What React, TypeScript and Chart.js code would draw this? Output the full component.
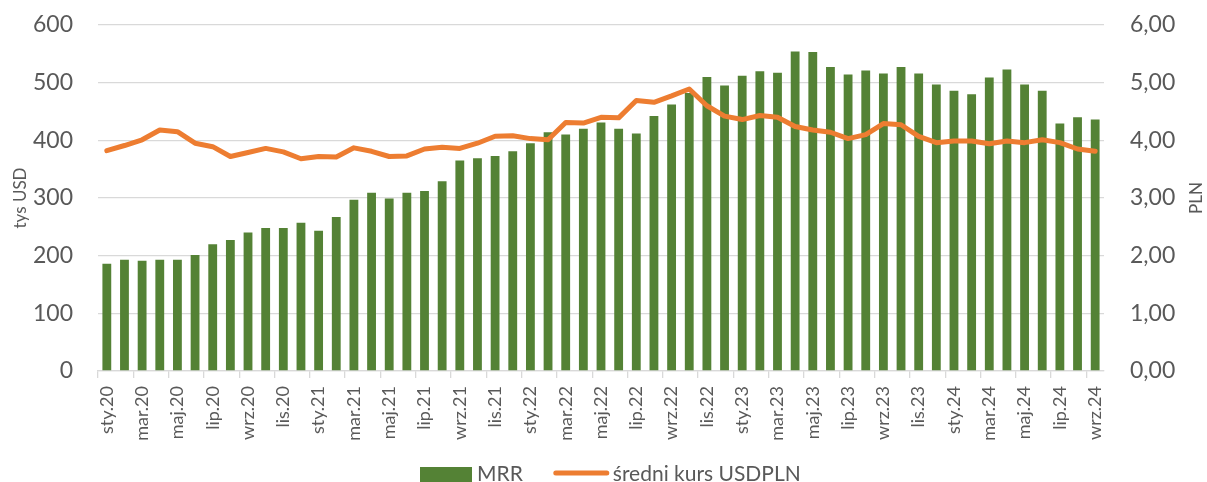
import React, { useEffect, useRef } from 'react';
import { Chart, registerables } from 'chart.js';

Chart.register(...registerables);

// ---- data ----
const categories = [
  'sty.20', 'lut.20', 'mar.20', 'kwi.20', 'maj.20', 'cze.20', 'lip.20', 'sie.20', 'wrz.20', 'paź.20', 'lis.20', 'gru.20',
  'sty.21', 'lut.21', 'mar.21', 'kwi.21', 'maj.21', 'cze.21', 'lip.21', 'sie.21', 'wrz.21', 'paź.21', 'lis.21', 'gru.21',
  'sty.22', 'lut.22', 'mar.22', 'kwi.22', 'maj.22', 'cze.22', 'lip.22', 'sie.22', 'wrz.22', 'paź.22', 'lis.22', 'gru.22',
  'sty.23', 'lut.23', 'mar.23', 'kwi.23', 'maj.23', 'cze.23', 'lip.23', 'sie.23', 'wrz.23', 'paź.23', 'lis.23', 'gru.23',
  'sty.24', 'lut.24', 'mar.24', 'kwi.24', 'maj.24', 'cze.24', 'lip.24', 'sie.24', 'wrz.24',
];

const mrrValues = [
  186, 193, 191, 193, 193, 201, 220, 227, 240, 248, 248, 257,
  243, 267, 297, 309, 299, 309, 312, 329, 365, 369, 373, 381,
  395, 414, 410, 420, 431, 420, 412, 442, 462, 482, 510, 495,
  512, 520, 517, 554, 553, 527, 514, 521, 516, 527, 516, 497,
  486, 480, 509, 523, 497, 486, 429, 440, 436,
];

const usdplnValues = [
  3.82, 3.91, 4.01, 4.18, 4.15, 3.95, 3.89, 3.72, 3.79, 3.86, 3.80, 3.68,
  3.72, 3.71, 3.87, 3.81, 3.72, 3.73, 3.85, 3.88, 3.86, 3.95, 4.07, 4.08,
  4.03, 4.01, 4.31, 4.30, 4.40, 4.39, 4.69, 4.66, 4.77, 4.89, 4.60, 4.42,
  4.36, 4.43, 4.40, 4.24, 4.18, 4.14, 4.03, 4.10, 4.29, 4.27, 4.07, 3.96,
  3.99, 3.99, 3.94, 3.99, 3.96, 4.01, 3.96, 3.85, 3.81,
];

const seriesNames = ['MRR', 'średni kurs USDPLN'];
const leftAxisTitle = 'tys USD';
const rightAxisTitle = 'PLN';

// ---- styles ----
const FONT = 'Lato, "Open Sans", sans-serif';
const TEXT = '#595959';
const GRID = '#D9D9D9';
const GREEN = '#548235';
const ORANGE = '#ED7D31';

const overlayPlugin = {
  id: 'overlay',
  afterDraw(chart: any) {
    const { ctx, chartArea } = chart;
    ctx.save();
    ctx.fillStyle = TEXT;
    ctx.textAlign = 'center';
    ctx.textBaseline = 'middle';
    ctx.font = `17px ${FONT}`;
    const cy = (chartArea.top + chartArea.bottom) / 2;
    const titles: [number, string][] = [[21, leftAxisTitle], [1197, rightAxisTitle]];
    titles.forEach(([x, t]) => {
      ctx.save();
      ctx.translate(x, cy);
      ctx.rotate(-Math.PI / 2);
      ctx.fillText(t, 0, 0);
      ctx.restore();
    });

    // legend
    ctx.font = `21px ${FONT}`;
    ctx.textAlign = 'left';
    const ly = 474;
    let x = 420;
    ctx.fillStyle = GREEN;
    ctx.fillRect(x, 467, 52, 16);
    x += 57;
    ctx.fillStyle = TEXT;
    ctx.fillText(seriesNames[0], x, ly);
    x += ctx.measureText(seriesNames[0]).width + 31;
    ctx.strokeStyle = ORANGE;
    ctx.lineWidth = 5;
    ctx.lineCap = 'round';
    ctx.beginPath();
    ctx.moveTo(x + 2, 473);
    ctx.lineTo(x + 53, 473);
    ctx.stroke();
    x += 59;
    ctx.fillText(seriesNames[1], x, ly);
    ctx.restore();
  },
};

export default function App() {
  const canvasRef = useRef<HTMLCanvasElement | null>(null);

  useEffect(() => {
    if (!canvasRef.current) return;
    const chart = new Chart(canvasRef.current, {
      type: 'bar',
      data: {
        labels: categories,
        datasets: [
          {
            type: 'bar',
            label: seriesNames[0],
            data: mrrValues,
            backgroundColor: GREEN,
            borderWidth: 0,
            barPercentage: 1,
            categoryPercentage: 0.5,
            yAxisID: 'y',
            order: 2,
          },
          {
            type: 'line',
            label: seriesNames[1],
            data: usdplnValues,
            borderColor: ORANGE,
            backgroundColor: ORANGE,
            borderWidth: 5,
            pointRadius: 0,
            tension: 0,
            borderCapStyle: 'round',
            borderJoinStyle: 'round',
            yAxisID: 'y1',
            order: 1,
          } as any,
        ],
      },
      options: {
        animation: false,
        responsive: true,
        maintainAspectRatio: false,
        layout: { padding: { top: 25, left: 0, right: 0, bottom: 0 } },
        plugins: {
          legend: { display: false },
          tooltip: { enabled: false },
        },
        scales: {
          x: {
            offset: true,
            grid: {
              offset: true,
              drawOnChartArea: false,
              drawTicks: true,
              tickLength: 7,
              lineWidth: 1.3,
              color: (c: any) => (c.index % 2 === 0 ? GRID : 'rgba(0,0,0,0)'),
            },
            border: { display: true, color: GRID, width: 1.3 },
            ticks: {
              autoSkip: false,
              minRotation: 90,
              maxRotation: 90,
              padding: 8,
              color: TEXT,
              font: { family: FONT, size: 18 },
              callback: (_v: any, i: number) => (i % 2 === 0 ? categories[i] : ''),
            },
            afterFit: (s: any) => { s.height = 111; },
          },
          y: {
            position: 'left',
            min: 0,
            max: 600,
            ticks: {
              stepSize: 100,
              padding: 25,
              color: TEXT,
              font: { family: FONT, size: 23 },
            },
            grid: { color: GRID, lineWidth: 1.3, drawTicks: false },
            border: { display: false },
            afterFit: (s: any) => { s.width = 98; s.paddingTop = 0; s.paddingBottom = 0; },
          },
          y1: {
            position: 'right',
            min: 0,
            max: 6,
            ticks: {
              stepSize: 1,
              padding: 26,
              color: TEXT,
              font: { family: FONT, size: 23 },
              callback: (v: any) => Number(v).toFixed(2).replace('.', ','),
            },
            grid: { display: false, drawTicks: false },
            border: { display: false },
            afterFit: (s: any) => { s.width = 103; s.paddingTop = 0; s.paddingBottom = 0; },
          },
        },
      } as any,
      plugins: [overlayPlugin],
    });
    return () => chart.destroy();
  }, []);

  return (
    <div style={{ position: 'fixed', left: 0, top: 0, width: 1207, height: 482, background: '#fff' }}>
      <canvas ref={canvasRef} />
    </div>
  );
}
